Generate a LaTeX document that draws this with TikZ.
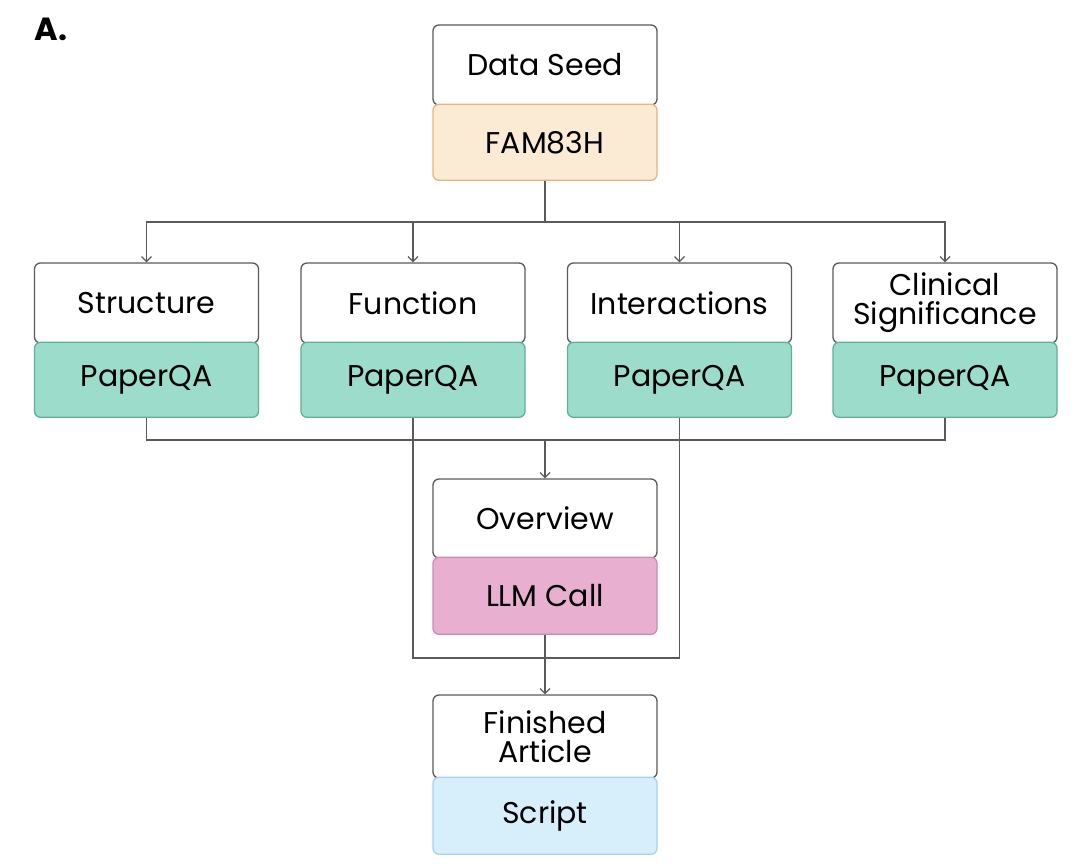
\documentclass[tikz,border=0pt]{standalone}
\usepackage{fontspec}
\setmainfont{Poppins}
\usetikzlibrary{arrows.meta,positioning}

\definecolor{edgegray}{HTML}{5A5A5A}
\definecolor{seedfill}{HTML}{FCEBD4}
\definecolor{seededge}{HTML}{E6B57E}
\definecolor{qafill}{HTML}{9CDCCB}
\definecolor{qaedge}{HTML}{62AF99}
\definecolor{llmfill}{HTML}{E8AFD0}
\definecolor{llmedge}{HTML}{C98DB1}
\definecolor{scriptfill}{HTML}{D7EEFB}
\definecolor{scriptedge}{HTML}{A9D2EA}

\tikzset{
  namebox/.style={draw=edgegray, line width=1.3pt, rounded corners=6pt, fill=white,
    minimum width=224pt, minimum height=80pt, align=center,
    font=\fontsize{30}{29}\selectfont},
  toolbox/.style={line width=1.3pt, rounded corners=6pt,
    minimum width=224pt, minimum height=76pt, below=-2pt of #1,
    font=\fontsize{30}{30}\selectfont},
  link/.style={draw=edgegray, line width=1.2pt},
  arr/.style={link, -{Straight Barb[length=5pt,width=10pt]}}
}

\begin{document}
\begin{tikzpicture}[x=1pt,y=-1pt]
\useasboundingbox (0,0) rectangle (1080,867);

\node[font=\fontsize{32}{32}\selectfont\bfseries] (tag) at (51,29) {A.};

% seed
\node[namebox, minimum height=80pt] (seed) at (545,65) {Data Seed};
\node[toolbox=seed, fill=seedfill, draw=seededge] (fam) {FAM83H};

% topics
\node[namebox] (struct) at (146.5,303) {Structure};
\node[namebox] (func) at (413,303) {Function};
\node[namebox] (inter) at (679.5,303) {Interactions};
\node[namebox] (clin) at (945,303) {Clinical\\Significance};
\node[toolbox=struct, minimum height=75pt, fill=qafill, draw=qaedge] (sq) {PaperQA};
\node[toolbox=func, minimum height=75pt, fill=qafill, draw=qaedge] (fq) {PaperQA};
\node[toolbox=inter, minimum height=75pt, fill=qafill, draw=qaedge] (iq) {PaperQA};
\node[toolbox=clin, minimum height=75pt, fill=qafill, draw=qaedge] (cq) {PaperQA};

% overview
\node[namebox, minimum height=79pt] (over) at (545,518.5) {Overview};
\node[toolbox=over, minimum height=77pt, fill=llmfill, draw=llmedge] (llm) {LLM Call};

% article
\node[namebox, minimum height=83pt] (fin) at (545,736.5) {Finished\\Article};
\node[toolbox=fin, minimum height=77pt, fill=scriptfill, draw=scriptedge] (script) {Script};

\coordinate (split) at (545,222);
\coordinate (join) at (545,440);
\coordinate (merge) at (545,658);

\draw[link] (fam) -- (split);
\draw[arr] (split) -| (struct);
\draw[arr] (split) -| (func);
\draw[arr] (split) -| (inter);
\draw[arr] (split) -| (clin);

\draw[link] (sq) |- (join) -| (cq);
\draw[link] (fq) |- (merge) -| (iq);
\draw[arr] (join) -- (over);
\draw[arr] (llm) -- (fin);
\end{tikzpicture}
\end{document}
